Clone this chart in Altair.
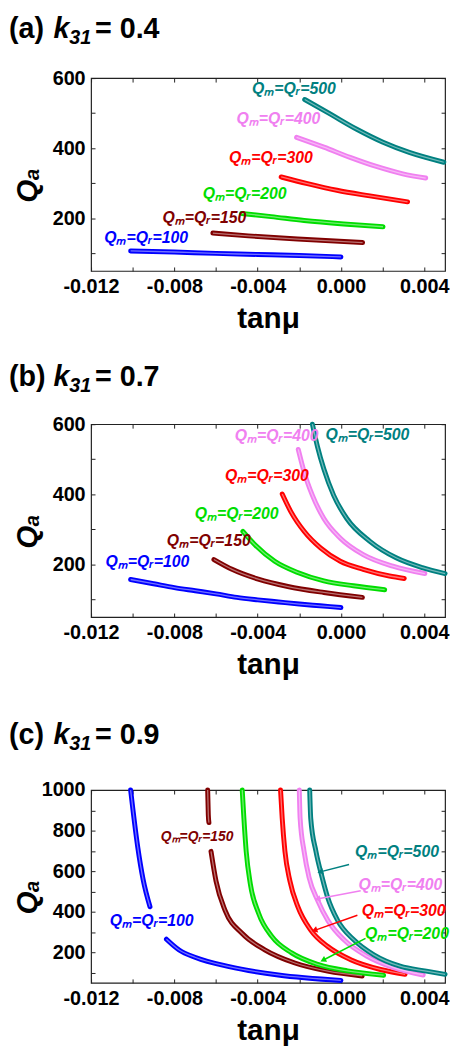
import altair as alt
import pandas as pd

FONT = "Liberation Sans"
SERIES = ["100", "150", "200", "300", "400", "500"]
COLORS = ["#0000ff", "#800000", "#00dd00", "#ff0000", "#f080f0", "#008080"]

X_DOMAIN = [-0.012, 0.005]
X_LABEL_VALUES = [-0.012, -0.008, -0.004, 0.0, 0.004]
X_TICK_VALUES = [-0.012, -0.010, -0.008, -0.006, -0.004, -0.002, 0.0, 0.002, 0.004]

# ---------------- panel (a): k31 = 0.4 ----------------
A_TITLE = ["(a)", "k", "31", "= 0.4"]
A_X = {
    "100": [-0.0101, -0.008, -0.006, -0.004, -0.002, 0.0],
    "150": [-0.00615, -0.00445, -0.00208, 0.00104],
    "200": [-0.00477, -0.00335, -0.00177, 0.00013, 0.00202],
    "300": [-0.00287, -0.00161, -0.00019, 0.00139, 0.0032],
    "400": [-0.00213, -0.00082, 0.00044, 0.0017, 0.00297, 0.00407],
    "500": [-0.00174, -0.0005, 0.00076, 0.00202, 0.00328, 0.00494],
}
A_Y = {
    "100": [107, 104, 100, 97, 94, 90],
    "150": [158, 150, 141, 131],
    "200": [214, 205, 194, 184, 176],
    "300": [318, 299, 280, 264, 247],
    "400": [431, 403, 374, 348, 327, 315],
    "500": [539, 497, 454, 417, 388, 360],
}
A_LABEL_X = [-0.01137, -0.00857, -0.00664, -0.00538, -0.00502, -0.00427]
A_LABEL_Y = [130, 188, 256, 357, 468, 554]

# ---------------- panel (b): k31 = 0.7 ----------------
B_TITLE = ["(b)", "k", "31", "= 0.7"]
B_X = {
    "100": [-0.0101, -0.009, -0.008, -0.007, -0.006, -0.005, -0.004, -0.003, -0.002, -0.001, 0.0],
    "150": [-0.0061, -0.00523, -0.00397, -0.00255, -0.00082, 0.00103],
    "200": [-0.00471, -0.00413, -0.00318, -0.00208, -0.00082, 0.0006, 0.0021],
    "300": [-0.00282, -0.0024, -0.00176, -0.00098, -0.00003, 0.00107, 0.00233, 0.00304],
    "400": [-0.00205, -0.00176, -0.00137, -0.00082, -0.00003, 0.00107, 0.00249, 0.00403],
    "500": [-0.00137, -0.00113, -0.00082, -0.00035, 0.00028, 0.00139, 0.00265, 0.00391, 0.005],
}
B_Y = {
    "100": [157, 145, 134, 125, 116, 106, 99, 93, 87, 82, 77],
    "150": [214, 186, 158, 137, 120, 106],
    "200": [294, 256, 209, 177, 153, 139, 128],
    "300": [401, 350, 294, 247, 209, 186, 167, 160],
    "400": [528, 462, 397, 331, 275, 228, 195, 174],
    "500": [600, 537, 472, 397, 331, 266, 219, 191, 174],
}
B_LABEL_X = [-0.01131, -0.00836, -0.00702, -0.00557, -0.0051, -0.00074]
B_LABEL_Y = [194, 252, 329, 439, 551, 556]

# ---------------- panel (c): k31 = 0.9 ----------------
C_TITLE = ["(c)", "k", "31", "= 0.9"]
# curves broken where the reference hides them behind a label
C_X = {
    "100:1": [-0.0101, -0.00976, -0.0095, -0.00917],
    "100:2": [-0.00838, -0.00777, -0.00698, -0.00537, -0.00301, 0.0],
    "150:1": [-0.0064, -0.00637, -0.00634],
    "150:2": [-0.00624, -0.006, -0.00556, -0.00474, -0.00366, -0.00221, -0.00064, 0.00102],
    "200": [-0.00474, -0.00466, -0.00455, -0.00435, -0.00395, -0.00332, -0.00237, -0.00111, 0.00031, 0.00205],
    "300": [-0.0029, -0.00282, -0.00269, -0.00245, -0.00206, -0.00145, -0.00063, 0.00047, 0.0019, 0.00308],
    "400": [-0.002, -0.00196, -0.00177, -0.00153, -0.00111, -0.00063, 0.00016, 0.00126, 0.00253, 0.00395],
    "500": [-0.0015, -0.00145, -0.0012, -0.0009, -0.00064, -0.00016, 0.00063, 0.00158, 0.00284, 0.0041, 0.005],
}
C_Y = {
    "100:1": [1000, 720, 559, 425],
    "100:2": [265, 212, 175, 130, 89, 62],
    "150:1": [1000, 879, 840],
    "150:2": [698, 552, 406, 293, 213, 148, 108, 84],
    "200": [1000, 860, 698, 537, 392, 279, 198, 141, 109, 88],
    "300": [1000, 860, 698, 552, 423, 310, 229, 164, 116, 92],
    "400": [1000, 860, 698, 569, 455, 358, 261, 181, 125, 89],
    "500": [1000, 860, 698, 569, 472, 358, 261, 188, 132, 108, 92],
}
C_LABEL_X = [-0.0111, -0.00865, 0.00116, 0.001, 0.00084, 0.00068]
C_LABEL_Y = [332, 749, 264, 381, 507, 672]

ARROW_SERIES = ["500", "400", "300", "200"]
ARROW_X = [0.00039, 0.00095, 0.00079, 0.00118]
ARROW_Y = [633, 504, 383, 269]
ARROW_X2 = [-0.00095, -0.00108, -0.00123, -0.00082]
ARROW_Y2 = [598, 464, 310, 164]
ARROW_ANGLE = [255, 259, 251, 243]


def tick_axis(orient, values):
    return alt.Axis(orient=orient, offset=-4, values=values, ticks=True, tickSize=4,
                    tickWidth=1, tickColor="#222222", labels=False, domain=False,
                    grid=False, title=None)


def title_piece(text, x, y, size, italic):
    return alt.Chart(pd.DataFrame({"t": [text]})).mark_text(
        align="left", baseline="alphabetic", font=FONT, fontSize=size, fontWeight="bold",
        fontStyle="italic" if italic else "normal", color="black"
    ).encode(text="t:N", x=alt.value(x), y=alt.value(y))


def panel(title, xs, ys, lab_x, lab_y, y_max, y_label_values, y_tick_values,
          title_y, arrows=False, small_label=False):
    rows = []
    for key in xs:
        series = key.split(":")[0]
        for xv, yv in zip(xs[key], ys[key]):
            rows.append({"series": series, "seg": key, "x": xv, "y": yv})
    curves = pd.DataFrame(rows)
    labels = pd.DataFrame({"series": SERIES, "x": lab_x, "y": lab_y})
    labels["label"] = "Q\u2098=Q\u1d63=" + labels["series"]

    xsc = alt.Scale(domain=X_DOMAIN, nice=False, zero=False)
    ysc = alt.Scale(domain=[50, y_max], nice=False, zero=False)
    color = alt.Color("series:N", scale=alt.Scale(domain=SERIES, range=COLORS), legend=None)

    main_x_axis = alt.Axis(
        orient="bottom", values=X_LABEL_VALUES,
        labelExpr="(datum.value < 0 ? '-' : '') + format(abs(datum.value), '.3f')",
        ticks=False, domain=False, grid=False, labelFont=FONT, labelFontSize=20,
        labelFontWeight="bold", labelColor="black", labelPadding=6, labelFlush=False,
        labelOverlap=False, title="tan\u03bc", titleFont=FONT, titleFontSize=30,
        titleFontWeight="bold", titleColor="black", titlePadding=7)
    main_y_axis = alt.Axis(
        orient="left", values=y_label_values, format="d", ticks=False, domain=False,
        grid=False, labelFont=FONT, labelFontSize=20, labelFontWeight="bold",
        labelColor="black", labelPadding=6, labelFlush=False, labelOverlap=False,
        title="Q\u2090", titleFont=FONT, titleFontSize=30, titleFontWeight="bold",
        titleFontStyle="italic", titleColor="black", titleX=-49, titleY=108,
        titleBaseline="bottom", titleAngle=270)

    outer = alt.Chart(curves).mark_line(
        strokeWidth=5, strokeCap="round", strokeJoin="round", interpolate="monotone"
    ).encode(
        x=alt.X("x:Q", scale=xsc, axis=main_x_axis),
        y=alt.Y("y:Q", scale=ysc, axis=main_y_axis),
        color=color, detail="seg:N")
    inner = alt.Chart(curves).mark_line(
        strokeWidth=1.3, color="white", opacity=0.45, interpolate="monotone"
    ).encode(
        x=alt.X("x:Q", scale=xsc, axis=tick_axis("bottom", X_TICK_VALUES)),
        y=alt.Y("y:Q", scale=ysc, axis=tick_axis("left", y_tick_values)),
        detail="seg:N")
    size = alt.value(16)
    if small_label:
        size = alt.condition(alt.datum.series == "150", alt.value(14), alt.value(16))
    text = alt.Chart(labels).mark_text(
        align="left", baseline="alphabetic", font=FONT, fontWeight="bold", fontStyle="italic"
    ).encode(
        x=alt.X("x:Q", scale=xsc, axis=tick_axis("top", X_TICK_VALUES)),
        y=alt.Y("y:Q", scale=ysc, axis=tick_axis("right", y_tick_values)),
        text="label:N", color=color, size=size)
    layers = [outer, inner, text]
    if arrows:
        arr = pd.DataFrame({"series": ARROW_SERIES, "x": ARROW_X, "y": ARROW_Y,
                            "x2": ARROW_X2, "y2": ARROW_Y2, "angle": ARROW_ANGLE})
        rule = alt.Chart(arr).mark_rule(strokeWidth=1.5).encode(
            x=alt.X("x:Q", scale=xsc, axis=None), y=alt.Y("y:Q", scale=ysc, axis=None),
            x2="x2:Q", y2="y2:Q", color=color)
        head = alt.Chart(arr).mark_point(shape="triangle", filled=True, size=45, opacity=1).encode(
            x=alt.X("x2:Q", scale=xsc, axis=None), y=alt.Y("y2:Q", scale=ysc, axis=None),
            angle=alt.Angle("angle:Q", scale=None), color=color)
        layers += [rule, head]
    # panel heading: "(a) k31 = 0.4" with italic k and subscript 31
    layers += [
        title_piece(title[0], -83, title_y, 29, False),
        title_piece(title[1], -38, title_y, 29, True),
        title_piece(title[2], -22, title_y + 6, 20, True),
        title_piece(title[3], 4, title_y, 29, False),
    ]
    return alt.layer(*layers).resolve_axis(x="independent", y="independent").properties(
        width=358, height=195)


pa = panel(A_TITLE, A_X, A_Y, A_LABEL_X, A_LABEL_Y, 600,
           [200, 400, 600], [100, 200, 300, 400, 500, 600], -41)
pb = panel(B_TITLE, B_X, B_Y, B_LABEL_X, B_LABEL_Y, 600,
           [200, 400, 600], [100, 200, 300, 400, 500, 600], -39)
pc = panel(C_TITLE, C_X, C_Y, C_LABEL_X, C_LABEL_Y, 1000,
           [200, 400, 600, 800, 1000], [100, 200, 300, 400, 500, 600, 700, 800, 900, 1000],
           -47, arrows=True, small_label=True)

chart = alt.vconcat(alt.vconcat(pa, pb, spacing=28), pc, spacing=40).configure_view(
    stroke="#222222", strokeWidth=1.2
).properties(padding=0, background="white")

chart.save("out.html", embed_options={"renderer": "svg", "actions": False})
